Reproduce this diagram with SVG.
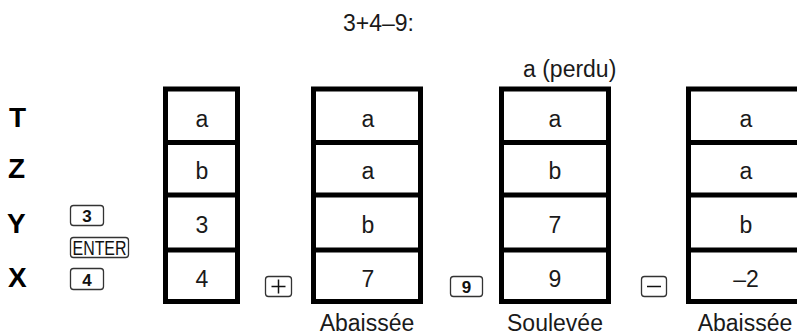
<svg xmlns="http://www.w3.org/2000/svg" width="797" height="335" viewBox="0 0 797 335">
<style>
  .cell { fill: none; stroke: #000; stroke-width: 5; }
  .div { stroke: #000; stroke-width: 5; }
  .txt { font-family: "Liberation Sans", Arial, sans-serif; font-size: 23px; fill: #1a1a1a; text-anchor: middle; }
  .reg { font-family: "Liberation Sans", Arial, sans-serif; font-size: 28px; font-weight: bold; fill: #000; }
  .key { fill: #fff; stroke: #333; stroke-width: 1.3; }
  .keyt { font-family: "Liberation Sans", Arial, sans-serif; font-size: 17px; font-weight: bold; fill: #111; text-anchor: middle; }
  .entert { font-family: "Liberation Sans", Arial, sans-serif; font-size: 20px; fill: #111; text-anchor: middle; }
  .sym { stroke: #111; stroke-width: 1.5; fill: none; }
</style>
<rect width="797" height="335" fill="#fff"/>

<g id="title">
  <text class="txt" x="343" y="31" style="text-anchor:start">3+4–9:</text>
</g>

<g id="register-labels">
  <text class="reg" x="9" y="127">T</text>
  <text class="reg" x="8" y="178">Z</text>
  <text class="reg" x="7" y="233">Y</text>
  <text class="reg" x="8" y="287">X</text>
</g>

<g id="keys-entry">
  <rect class="key" x="70.5" y="205.5" width="33" height="20" rx="3"/>
  <text class="keyt" x="87" y="222">3</text>
  <rect class="key" x="70.5" y="237.5" width="58" height="20" rx="3"/>
  <text class="entert" x="99.5" y="255" textLength="54" lengthAdjust="spacingAndGlyphs">ENTER</text>
  <rect class="key" x="70.5" y="268.5" width="33" height="21" rx="3"/>
  <text class="keyt" x="87" y="285.5">4</text>
</g>

<g id="stack-1">
  <rect class="cell" x="165.5" y="89" width="72" height="212.5"/>
  <line class="div" x1="165.5" y1="142.5" x2="237.5" y2="142.5"/>
  <line class="div" x1="165.5" y1="195" x2="237.5" y2="195"/>
  <line class="div" x1="165.5" y1="250" x2="237.5" y2="250"/>
  <text class="txt" x="202" y="127">a</text>
  <text class="txt" x="202" y="179">b</text>
  <text class="txt" x="202" y="233">3</text>
  <text class="txt" x="202" y="287">4</text>
</g>

<g id="key-plus">
  <rect class="key" x="265.5" y="276.5" width="26" height="20" rx="3"/>
  <path class="sym" d="M271.5 286.5 H285.5 M278.5 279.5 V293.5"/>
</g>

<g id="stack-2">
  <rect class="cell" x="313.5" y="89" width="107" height="212.5"/>
  <line class="div" x1="313.5" y1="142.5" x2="420.5" y2="142.5"/>
  <line class="div" x1="313.5" y1="195" x2="420.5" y2="195"/>
  <line class="div" x1="313.5" y1="250" x2="420.5" y2="250"/>
  <text class="txt" x="368" y="127">a</text>
  <text class="txt" x="368" y="179">a</text>
  <text class="txt" x="368" y="233">b</text>
  <text class="txt" x="368" y="287">7</text>
  <text class="txt" x="367" y="331">Abaissée</text>
</g>

<g id="key-9">
  <rect class="key" x="450.5" y="276.5" width="32" height="20" rx="3"/>
  <text class="keyt" x="466.5" y="293">9</text>
</g>

<g id="stack-3">
  <text class="txt" x="523" y="77" style="text-anchor:start">a (perdu)</text>
  <rect class="cell" x="501.5" y="89" width="107" height="212.5"/>
  <line class="div" x1="501.5" y1="142.5" x2="608.5" y2="142.5"/>
  <line class="div" x1="501.5" y1="195" x2="608.5" y2="195"/>
  <line class="div" x1="501.5" y1="250" x2="608.5" y2="250"/>
  <text class="txt" x="555" y="127">a</text>
  <text class="txt" x="555" y="179">b</text>
  <text class="txt" x="555" y="233">7</text>
  <text class="txt" x="555" y="287">9</text>
  <text class="txt" x="555" y="331">Soulevée</text>
</g>

<g id="key-minus">
  <rect class="key" x="641.5" y="276.5" width="25" height="20" rx="3"/>
  <path class="sym" d="M647 286.5 H661"/>
</g>

<g id="stack-4">
  <rect class="cell" x="688.5" y="89" width="116" height="212.5"/>
  <line class="div" x1="688.5" y1="142.5" x2="804.5" y2="142.5"/>
  <line class="div" x1="688.5" y1="195" x2="804.5" y2="195"/>
  <line class="div" x1="688.5" y1="250" x2="804.5" y2="250"/>
  <text class="txt" x="746" y="127">a</text>
  <text class="txt" x="746" y="179">a</text>
  <text class="txt" x="746" y="233">b</text>
  <text class="txt" x="746" y="287">–2</text>
  <text class="txt" x="745" y="331">Abaissée</text>
</g>
</svg>
